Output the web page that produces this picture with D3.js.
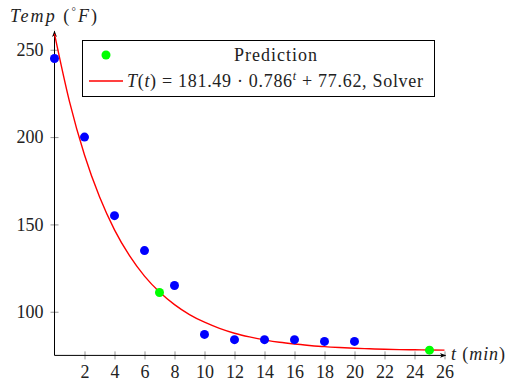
<!DOCTYPE html>
<html><head><meta charset="utf-8">
<script src="https://cdn.jsdelivr.net/npm/d3@7/dist/d3.min.js"></script>
<style>
body{margin:0;background:#fff;}
text{font-family:"Liberation Serif","Times New Roman",serif;fill:#222;}
</style></head>
<body>
<svg id="c" width="508" height="384"></svg>
<script>
// Data
const measuredT = [0, 2, 4, 6, 8, 10, 12, 14, 16, 18, 20];
const measuredTemp = [245, 200, 155, 135, 115, 87, 84, 84, 84, 83, 83];
const predictionT = [7, 25];
const predictionTemp = [111, 78];
const curveT = [0,1,2,3,4,5,6,7,8,9,10,11,12,13,14,15,16,17,18,19,20,21,22,23,24,25,26];
const curveTemp = [259.1,220.3,189.7,165.8,146.9,132.1,120.4,111.3,104.1,98.4,94.0,90.5,87.7,85.6,83.9,82.5,81.5,80.7,80.0,79.5,79.1,78.8,78.5,78.3,78.2,78.1,78.0];
const xTicks = [2,4,6,8,10,12,14,16,18,20,22,24,26];
const yTicks = [100,150,200,250];

const svg = d3.select("#c");
const x = d3.scaleLinear().domain([0, 26]).range([54.5, 444.5]);
const y = d3.scaleLinear().domain([75, 260]).range([355.4, 32.3]);

const defs = svg.append("defs");
defs.append("marker").attr("id","arr").attr("viewBox","0 0 10 10").attr("refX",8).attr("refY",5)
  .attr("markerWidth",7).attr("markerHeight",7).attr("orient","auto")
  .append("path").attr("d","M0,1.5 L9,5 L0,8.5 L2.5,5 Z").attr("fill","#000");

const xAxis = svg.append("g").attr("transform",`translate(0,${y(75)})`)
  .call(d3.axisBottom(x).tickValues(xTicks).tickSize(4).tickPadding(10));
xAxis.select(".domain").remove();
xAxis.selectAll(".tick line").attr("y1",-4).attr("y2",4).attr("stroke","#777").attr("stroke-width",0.8);
xAxis.selectAll(".tick text").attr("font-size",18).attr("dy","0.9em").attr("y",6).style("font-family","Liberation Serif").attr("fill","#222");

const yAxis = svg.append("g").attr("transform",`translate(${x(0)},0)`)
  .call(d3.axisLeft(y).tickValues(yTicks).tickSize(4).tickPadding(10));
yAxis.select(".domain").remove();
yAxis.selectAll(".tick line").attr("x1",-4).attr("x2",4).attr("stroke","#777").attr("stroke-width",0.8);
yAxis.selectAll(".tick text").attr("font-size",18).attr("x",-11).style("font-family","Liberation Serif").attr("fill","#222");

svg.append("line").attr("x1",x(0)).attr("x2",x(26)+1).attr("y1",y(75)).attr("y2",y(75))
  .attr("stroke","#000").attr("stroke-width",1).attr("marker-end","url(#arr)");
svg.append("line").attr("x1",x(0)).attr("x2",x(0)).attr("y1",y(75)).attr("y2",y(260)-1)
  .attr("stroke","#000").attr("stroke-width",1).attr("marker-end","url(#arr)");

const line = d3.line().x(d=>x(d[0])).y(d=>y(d[1])).curve(d3.curveMonotoneX);
svg.append("path").datum(curveT.map((t,i)=>[t,curveTemp[i]]))
  .attr("d",line).attr("fill","none").attr("stroke","#ff0000").attr("stroke-width",1.4);

svg.append("g").selectAll("circle").data(measuredT.map((t,i)=>[t,measuredTemp[i]])).join("circle")
  .attr("cx",d=>x(d[0])).attr("cy",d=>y(d[1])).attr("r",4.5).attr("fill","#0000ff");
svg.append("g").selectAll("circle").data(predictionT.map((t,i)=>[t,predictionTemp[i]])).join("circle")
  .attr("cx",d=>x(d[0])).attr("cy",d=>y(d[1])).attr("r",4.5).attr("fill","#00ff00");

// axis labels
const yl = svg.append("text").attr("x",10).attr("y",22).attr("font-size",18)
  .attr("textLength",87).attr("lengthAdjust","spacing");
yl.append("tspan").attr("font-style","italic").text("Temp");
yl.append("tspan").text(" (");
yl.append("tspan").attr("font-size",11).attr("dy",-7).text("°");
yl.append("tspan").attr("font-style","italic").attr("dy",7).text("F");
yl.append("tspan").text(")");

const xl = svg.append("text").attr("x",451).attr("y",360).attr("font-size",18)
  .attr("textLength",54).attr("lengthAdjust","spacing");
xl.append("tspan").attr("font-style","italic").text("t");
xl.append("tspan").text(" (");
xl.append("tspan").attr("font-style","italic").text("min");
xl.append("tspan").text(")");

// legend
const lg = svg.append("g");
lg.append("rect").attr("x",82.5).attr("y",40.5).attr("width",352).attr("height",56)
  .attr("fill","#fff").attr("stroke","#000").attr("stroke-width",1);
lg.append("circle").attr("cx",106).attr("cy",55).attr("r",4.5).attr("fill","#00ff00");
lg.append("text").attr("x",234).attr("y",61).attr("font-size",18)
  .attr("textLength",83).attr("lengthAdjust","spacing").text("Prediction");
lg.append("line").attr("x1",89).attr("x2",123).attr("y1",81).attr("y2",81).attr("stroke","#ff0000").attr("stroke-width",1.4);
const ft = lg.append("text").attr("x",127).attr("y",87).attr("font-size",18)
  .attr("textLength",296).attr("lengthAdjust","spacing");
ft.append("tspan").attr("font-style","italic").text("T");
ft.append("tspan").text("(");
ft.append("tspan").attr("font-style","italic").text("t");
ft.append("tspan").text(") = 181.49 · 0.786");
ft.append("tspan").attr("font-style","italic").attr("font-size",12).attr("dy",-7).text("t");
ft.append("tspan").attr("dy",7).text(" + 77.62, Solver");
</script>
</body></html>
